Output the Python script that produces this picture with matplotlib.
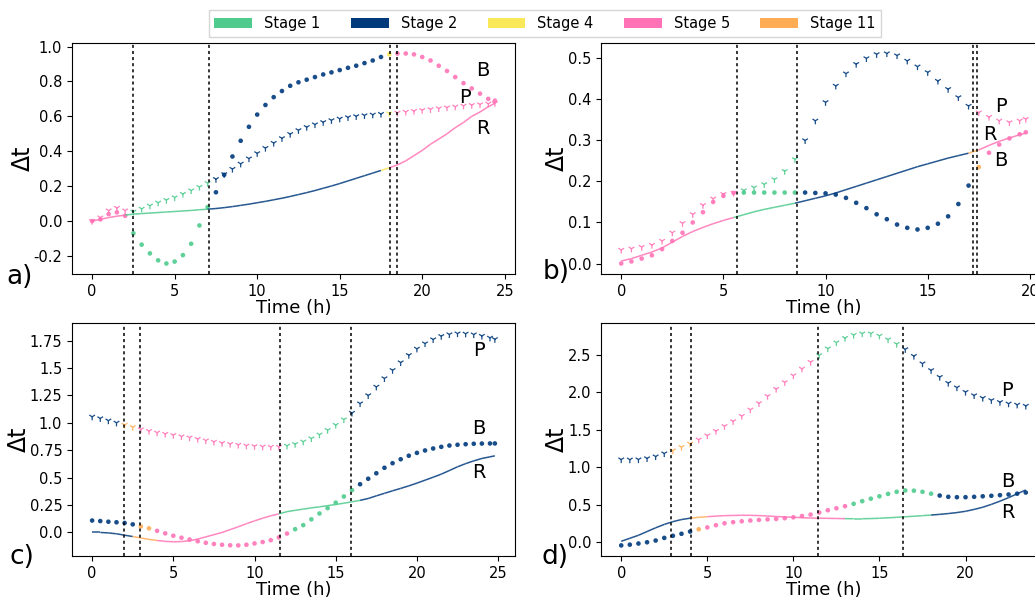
import numpy as np
import matplotlib.pyplot as plt
from matplotlib.patches import Patch
from matplotlib.collections import LineCollection

plt.rcParams['axes.unicode_minus'] = False

# stage colours and legend
stage_ids = [1, 2, 4, 5, 11]
stage_names = ['Stage 1', 'Stage 2', 'Stage 4', 'Stage 5', 'Stage 11']
stage_colors = ['#4ecb8d', '#003a7d', '#f9e858', '#ff73b6', '#ffad55']

# ---- panel a ----
t_a = np.r_[np.arange(0, 24.1, 0.5), 24.4]
B_a = [0.00, 0.01, 0.04, 0.05, 0.03, -0.07, -0.135, -0.185, -0.225, -0.243,
       -0.232, -0.195, -0.13, -0.025, 0.08, 0.165, 0.265, 0.37, 0.46, 0.54,
       0.61, 0.665, 0.71, 0.745, 0.775, 0.795, 0.81, 0.825, 0.84, 0.852,
       0.865, 0.878, 0.89, 0.905, 0.92, 0.94, 0.955, 0.96, 0.96, 0.955,
       0.94, 0.92, 0.89, 0.86, 0.825, 0.79, 0.76, 0.73, 0.70, 0.69]
P_a = [0.0, 0.02, 0.06, 0.075, 0.06, 0.053, 0.07, 0.088, 0.105, 0.12,
       0.135, 0.155, 0.175, 0.195, 0.217, 0.24, 0.268, 0.298, 0.328, 0.358,
       0.388, 0.418, 0.447, 0.474, 0.498, 0.52, 0.538, 0.553, 0.566, 0.577,
       0.586, 0.594, 0.6, 0.605, 0.609, 0.613, 0.616, 0.62, 0.625, 0.63,
       0.635, 0.64, 0.645, 0.65, 0.655, 0.66, 0.664, 0.668, 0.672, 0.675]
R_a = [0.0, 0.01, 0.02, 0.028, 0.034, 0.04, 0.043, 0.046, 0.049, 0.052,
       0.055, 0.058, 0.061, 0.065, 0.068, 0.072, 0.077, 0.083, 0.09, 0.097,
       0.105, 0.113, 0.122, 0.131, 0.141, 0.152, 0.163, 0.175, 0.188, 0.201,
       0.215, 0.23, 0.245, 0.26, 0.275, 0.29, 0.305, 0.322, 0.345, 0.375,
       0.405, 0.44, 0.47, 0.50, 0.535, 0.565, 0.60, 0.625, 0.655, 0.675]
stages_a = {'B': ([0, 2.5, 7.05, 18.0, 18.45], [5, 1, 2, 4, 5]),
            'P': ([0, 2.5, 7.05, 18.0, 18.45], [5, 1, 2, 4, 5]),
            'R': ([0, 2.5, 7.05, 18.0, 18.45], [5, 1, 2, 4, 5])}
vlines_a = [2.48, 7.06, 18.03, 18.47]
yticks_a = [-0.2, 0.0, 0.2, 0.4, 0.6, 0.8, 1.0]
ylabels_a = ['-0.2', '0.0', '0.2', '0.4', '0.6', '0.8', '1.0']
xticks_a = [0, 5, 10, 15, 20, 25]

# ---- panel b ----
t_b = np.r_[np.arange(0, 19.6, 0.5), 19.8]
B_b = [0.0, 0.005, 0.012, 0.02, 0.035, 0.055, 0.075, 0.10, 0.125, 0.15,
       0.165, 0.172, 0.173, 0.173, 0.173, 0.173, 0.173, 0.173, 0.173, 0.172,
       0.171, 0.168, 0.16, 0.148, 0.135, 0.12, 0.108, 0.095, 0.087, 0.083,
       0.087, 0.097, 0.115, 0.145, 0.19, 0.235, 0.27, 0.29, 0.305, 0.315,
       0.32]
P_b = [0.033, 0.036, 0.04, 0.045, 0.055, 0.075, 0.098, 0.12, 0.142, 0.158,
       0.169, 0.172, 0.178, 0.185, 0.193, 0.205, 0.225, 0.254, 0.30, 0.348,
       0.393, 0.433, 0.463, 0.486, 0.50, 0.51, 0.512, 0.507, 0.494, 0.48,
       0.466, 0.445, 0.425, 0.405, 0.384, 0.368, 0.357, 0.348, 0.344, 0.348,
       0.352]
R_b = [0.006, 0.012, 0.02, 0.028, 0.038, 0.052, 0.066, 0.078, 0.088, 0.097,
       0.105, 0.112, 0.119, 0.126, 0.132, 0.137, 0.142, 0.147, 0.153, 0.159,
       0.165, 0.172, 0.18, 0.188, 0.196, 0.204, 0.212, 0.22, 0.228, 0.236,
       0.243, 0.25, 0.257, 0.263, 0.269, 0.277, 0.288, 0.298, 0.306, 0.314,
       0.318]
stages_b = {'B': ([0, 5.67, 8.61, 17.45, 17.6], [5, 1, 2, 11, 5]),
            'P': ([0, 5.67, 8.61, 17.2, 17.4], [5, 1, 2, 11, 5]),
            'R': ([0, 5.67, 8.61, 17.4, 17.6], [5, 1, 2, 11, 5])}
vlines_b = [5.67, 8.61, 17.23, 17.40]
yticks_b = [0.0, 0.1, 0.2, 0.3, 0.4, 0.5]
ylabels_b = ['0.0', '0.1', '0.2', '0.3', '0.4', '0.5']
xticks_b = [0, 5, 10, 15, 20]

# ---- panel c ----
t_c = np.r_[np.arange(0, 24.6, 0.5), 24.8]
B_c = [0.109, 0.104, 0.098, 0.093, 0.087, 0.074, 0.055, 0.038, 0.015, -0.008,
       -0.03, -0.048, -0.064, -0.08, -0.094, -0.105, -0.112, -0.117, -0.118, -0.112,
       -0.1, -0.087, -0.07, -0.045, -0.01, 0.03, 0.067, 0.12, 0.173, 0.222,
       0.272, 0.328, 0.386, 0.44, 0.49, 0.54, 0.59, 0.632, 0.668, 0.70,
       0.726, 0.748, 0.766, 0.781, 0.793, 0.80, 0.805, 0.809, 0.811, 0.812,
       0.812]
P_c = [1.055, 1.04, 1.02, 1.0, 0.98, 0.96, 0.94, 0.925, 0.91, 0.898,
       0.887, 0.875, 0.865, 0.852, 0.838, 0.826, 0.815, 0.806, 0.798, 0.791,
       0.786, 0.782, 0.78, 0.78, 0.79, 0.805, 0.828, 0.857, 0.892, 0.933,
       0.98, 1.03, 1.09, 1.176, 1.25, 1.328, 1.405, 1.48, 1.55, 1.617,
       1.675, 1.723, 1.76, 1.79, 1.806, 1.814, 1.812, 1.805, 1.792, 1.775,
       1.762]
R_c = [0.0, 0.0, -0.004, -0.012, -0.025, -0.037, -0.05, -0.063, -0.073, -0.081,
       -0.085, -0.083, -0.076, -0.06, -0.04, -0.02, 0.0, 0.026, 0.052, 0.08,
       0.106, 0.13, 0.152, 0.17, 0.19, 0.202, 0.213, 0.224, 0.234, 0.245,
       0.255, 0.267, 0.28, 0.293, 0.31, 0.334, 0.357, 0.38, 0.402, 0.425,
       0.45, 0.477, 0.504, 0.532, 0.565, 0.599, 0.628, 0.653, 0.675, 0.69,
       0.699]
stages_c = {'B': ([0, 2.92, 3.7, 12.2, 16.1], [2, 11, 5, 1, 2]),
            'P': ([0, 1.95, 2.92, 11.59, 15.94], [2, 11, 5, 1, 2]),
            'R': ([0, 2.92, 4.5, 11.59, 16.8], [2, 11, 5, 1, 2])}
vlines_c = [1.95, 2.92, 11.59, 15.94]
yticks_c = [0.0, 0.25, 0.5, 0.75, 1.0, 1.25, 1.5, 1.75]
ylabels_c = ['0.0', '0.25', '0.5', '0.75', '1.0', '1.25', '1.5', '1.75']
xticks_c = [0, 5, 10, 15, 20, 25]

# ---- panel d ----
t_d = np.arange(0, 23.6, 0.5)
B_d = [-0.045, -0.035, -0.02, -0.003, 0.02, 0.055, 0.083, 0.11, 0.14, 0.17,
       0.195, 0.225, 0.25, 0.265, 0.277, 0.287, 0.295, 0.302, 0.308, 0.318,
       0.33, 0.347, 0.366, 0.393, 0.424, 0.45, 0.478, 0.51, 0.545, 0.578,
       0.61, 0.642, 0.67, 0.688, 0.685, 0.67, 0.645, 0.62, 0.603, 0.598,
       0.598, 0.603, 0.61, 0.617, 0.625, 0.634, 0.645, 0.66]
P_d = [1.10, 1.098, 1.10, 1.115, 1.14, 1.18, 1.22, 1.265, 1.31, 1.365,
       1.42, 1.48, 1.545, 1.61, 1.68, 1.765, 1.85, 1.945, 2.04, 2.13,
       2.22, 2.31, 2.40, 2.49, 2.58, 2.66, 2.72, 2.76, 2.78, 2.78,
       2.75, 2.70, 2.64, 2.57, 2.48, 2.38, 2.29, 2.20, 2.12, 2.06,
       2.0, 1.955, 1.92, 1.89, 1.865, 1.845, 1.83, 1.815]
R_d = [0.01, 0.05, 0.09, 0.14, 0.19, 0.235, 0.272, 0.3, 0.318, 0.33,
       0.338, 0.346, 0.352, 0.355, 0.357, 0.356, 0.353, 0.347, 0.34, 0.335,
       0.33, 0.325, 0.32, 0.318, 0.316, 0.314, 0.312, 0.311, 0.311, 0.313,
       0.317, 0.323, 0.33, 0.337, 0.344, 0.352, 0.36, 0.369, 0.38, 0.393,
       0.41, 0.435, 0.464, 0.502, 0.545, 0.592, 0.643, 0.695]
stages_d = {'B': ([0, 4.07, 5.0, 13.3, 18.4], [2, 11, 5, 1, 2]),
            'P': ([0, 2.89, 4.07, 11.43, 16.38], [2, 11, 5, 1, 2]),
            'R': ([0, 4.07, 5.1, 13.5, 18.4], [2, 11, 5, 1, 2])}
vlines_d = [2.89, 4.07, 11.43, 16.38]
yticks_d = [0.0, 0.5, 1.0, 1.5, 2.0, 2.5]
ylabels_d = ['0.0', '0.5', '1.0', '1.5', '2.0', '2.5']
xticks_d = [0, 5, 10, 15, 20]

# where the curve names sit (data coords)
names_a = {'B': (23.7, 0.86), 'P': (22.6, 0.71), 'R': (23.7, 0.53)}
names_b = {'P': (18.6, 0.384), 'R': (18.05, 0.315), 'B': (18.6, 0.25)}
names_c = {'P': (23.8, 1.66), 'B': (23.8, 0.95), 'R': (23.8, 0.55)}
names_d = {'P': (22.4, 2.02), 'B': (22.45, 0.81), 'R': (22.45, 0.39)}

panels = [
    ('a)', t_a, {'B': B_a, 'P': P_a, 'R': R_a}, stages_a, vlines_a, yticks_a, ylabels_a, xticks_a, names_a),
    ('b)', t_b, {'B': B_b, 'P': P_b, 'R': R_b}, stages_b, vlines_b, yticks_b, ylabels_b, xticks_b, names_b),
    ('c)', t_c, {'B': B_c, 'P': P_c, 'R': R_c}, stages_c, vlines_c, yticks_c, ylabels_c, xticks_c, names_c),
    ('d)', t_d, {'B': B_d, 'P': P_d, 'R': R_d}, stages_d, vlines_d, yticks_d, ylabels_d, xticks_d, names_d),
]

W, H = 1035, 597
# axes boxes in pixels: left, top, width, height
boxes = [(72, 43, 443, 231), (601, 43, 445, 231), (72, 323, 443, 233), (601, 323, 445, 233)]
tags = [(20, 277), (556, 272), (22, 557), (555, 557)]

marker_style = {
    'B': dict(marker='o', s=11, linewidths=0),
    'P': dict(marker='1', s=26, linewidths=0.9),
}
col_of = dict(zip(stage_ids, stage_colors))

fig = plt.figure(figsize=(W / 100, H / 100), dpi=100)

for (tag, t, curves, stg, vl, yt, yl, xt, names), box, tp in zip(panels, boxes, tags):
    l, top, w, h = box
    ax = fig.add_axes([l / W, 1 - (top + h) / H, w / W, h / H])
    for key in ['R', 'P', 'B']:
        vals = np.array(curves[key])
        edges, ids = stg[key]
        idx = np.searchsorted(edges, t, side='right') - 1
        cols = [col_of[ids[i]] for i in idx]
        if key == 'R':
            pts = np.column_stack([t, vals])
            segs = np.stack([pts[:-1], pts[1:]], axis=1)
            ax.add_collection(LineCollection(segs, colors=cols[1:], linewidths=1.1, alpha=0.85))
            ax.update_datalim(pts)
        else:
            ax.scatter(t, vals, c=cols, alpha=0.9, **marker_style[key])
    ax.autoscale_view()
    for x in vl:
        ax.axvline(x, color='black', ls=(0, (2, 2)), lw=1.1)
    for key, (x, y) in names.items():
        ax.text(x, y, key, fontsize=14, ha='center', va='center')
    ax.set_yticks(yt)
    ax.set_yticklabels(yl)
    ax.set_xticks(xt)
    ax.tick_params(labelsize=10.5)
    ax.set_xlabel('Time (h)', fontsize=13, labelpad=0)
    ax.set_ylabel('Δt', fontsize=17, labelpad=-1)
    fig.text(tp[0] / W, 1 - tp[1] / H, tag, fontsize=19, ha='center', va='center')

handles = [Patch(facecolor=c, edgecolor='none') for c in stage_colors]
fig.legend(handles, stage_names, loc='upper center', bbox_to_anchor=(545 / W, 1 - 3 / H),
           ncol=5, fontsize=10.5, handlelength=2.6, columnspacing=2.1, frameon=True,
           fancybox=False, edgecolor='#cccccc')

fig.savefig('out.png', dpi=100)
